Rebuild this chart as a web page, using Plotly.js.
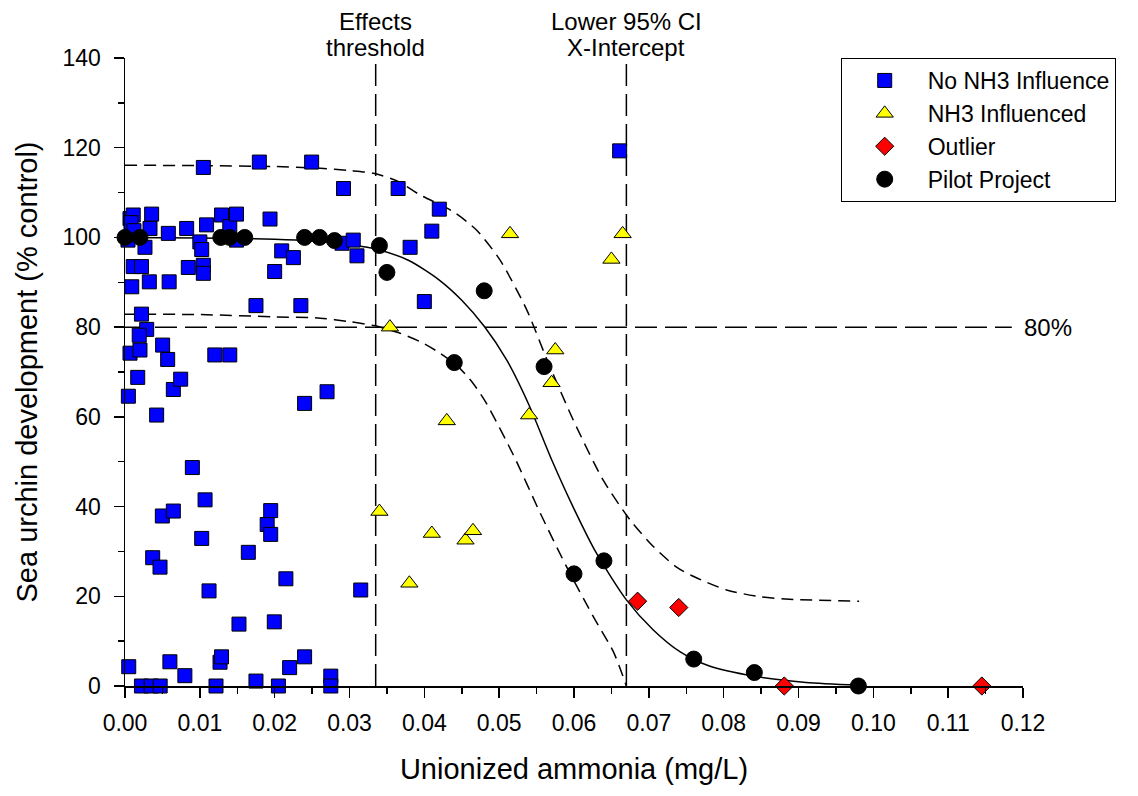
<!DOCTYPE html>
<html>
<head>
<meta charset="utf-8">
<script src="https://cdn.plot.ly/plotly-3.0.1.min.js"></script>
<style>html,body{margin:0;padding:0;background:#fff;}#chart{width:1138px;height:796px;}</style>
</head>
<body>
<div id="chart"></div>
<script>
// ---- Data: No NH3 Influence (blue squares)
const noNH3X = [0.0005,0.00045,0.00067,0.0009,0.00067,0.0011,0.0008,0.0012,0.0004,0.0011,0.0022,0.0022,0.0029,0.0019,0.002,0.0017,0.00267,0.00334,0.00356,0.00325,0.0022,0.0035,0.0047,0.0037,0.00423,0.00468,0.00499,0.00503,0.0057,0.0059,0.006,0.00579,0.00646,0.00646,0.00744,0.008,0.00824,0.00846,0.009,0.01,0.01025,0.01047,0.01047,0.01025,0.0107,0.01123,0.01047,0.0109,0.012,0.01216,0.0127,0.0129,0.0129,0.014,0.014,0.0149,0.0149,0.01523,0.01648,0.0175,0.0175,0.01795,0.019,0.01947,0.01947,0.01938,0.02,0.01995,0.0205,0.02094,0.0215,0.022,0.0225,0.0235,0.024,0.024,0.02494,0.027,0.0275,0.0275,0.0292,0.029,0.0305,0.031,0.0315,0.0365,0.0381,0.04,0.041,0.042,0.0661];
const noNH3Y = [4.3,64.6,74.2,89.0,104.2,105.0,103.3,101.5,99.4,93.5,93.5,82.9,79.5,78.2,74.9,68.8,97.8,102.0,105.2,90.1,0,0,0,28.6,60.4,26.5,37.9,76.0,72.8,90.1,5.4,100.9,66.1,39.0,68.4,2.3,102.0,93.3,48.7,99.0,97.3,93.8,92.0,32.9,41.5,21.2,115.6,102.8,73.8,0,5.3,6.5,105.0,102.4,73.8,105.2,99.4,13.8,29.8,84.8,1.1,116.8,36.0,39.1,33.8,104.1,92.4,14.3,0,97.0,23.9,4.1,95.5,84.8,63.0,6.5,116.8,65.6,2.2,0,110.9,98.7,99.4,95.9,21.4,110.9,97.8,85.7,101.4,106.3,119.3];

// ---- NH3 Influenced (yellow triangles)
const nh3X = [0.0354,0.034,0.038,0.041,0.043,0.0455,0.0465,0.05145,0.054,0.057,0.0575,0.065,0.0665];
const nh3Y = [80.0,38.9,22.9,34.0,59.1,32.5,34.6,100.8,60.4,67.6,74.9,95.1,100.8];

// ---- Outlier (red diamonds)
const outX = [0.0685,0.074,0.0881,0.1145];
const outY = [18.9,17.5,0,0];

// ---- Pilot Project (black circles)
const pilotX = [0.0,0.002,0.0128,0.014,0.016,0.024,0.026,0.028,0.034,0.035,0.044,0.048,0.056,0.060,0.064,0.076,0.0841,0.098];
const pilotY = [100,100,100,100,100,100,100,99.3,98.2,92.2,72.1,88.1,71.2,25.0,27.9,6.0,3.0,0];

// ---- Fitted curve and 95% CI bands
const fitX = [0,0.01,0.02,0.025,0.03,0.034,0.038,0.042,0.045,0.048,0.051,0.054,0.057,0.060,0.063,0.067,0.0706,0.0742,0.078,0.084,0.091,0.098];
const fitY = [100,99.9,99.6,99.2,98.4,97.2,94.8,90.5,86.0,80.2,72.7,62.6,50.5,39.5,29.6,19.2,12.5,7.6,4.5,2.2,0.8,0.2];
const upX = [0,0.01,0.02,0.0261,0.0301,0.0332,0.0365,0.0394,0.0439,0.047,0.0501,0.0537,0.0564,0.0599,0.0639,0.0675,0.0706,0.0737,0.076,0.0804,0.0849,0.0893,0.0981];
const upY = [116.1,116.0,115.8,115.4,114.9,114.3,112.5,109.5,105.7,101.6,95.0,83.8,72.7,59.3,45.9,37.0,31.1,26.5,24.4,21.4,19.9,19.3,18.9];
const loX = [0,0.01,0.02,0.0261,0.0301,0.0334,0.0365,0.0394,0.042,0.0445,0.0465,0.0483,0.0519,0.0555,0.059,0.0626,0.0653,0.067];
const loY = [82.9,82.8,82.3,82.0,81.2,80.3,78.8,76.8,74.3,71.2,67.5,63.0,51.5,38.5,26.6,15.4,7.5,0];

// ---- Reference lines
const effectsThresholdX = [0.0335, 0.0335];
const ciInterceptX = [0.067, 0.067];
const refLineY = [0, 139];
const level80X = [0, 0.1185];
const level80Y = [80, 80];

const FONT = 'Liberation Sans, Arial, sans-serif';
const refDash = '22px,8px';
const bandDash = '12px,7px';
const TXT = 24;

const traces = [
  {x: effectsThresholdX, y: refLineY, mode: 'lines', line: {color: '#000', width: 1.5, dash: refDash}, showlegend: false, hoverinfo: 'skip'},
  {x: ciInterceptX, y: refLineY, mode: 'lines', line: {color: '#000', width: 1.5, dash: refDash}, showlegend: false, hoverinfo: 'skip'},
  {x: level80X, y: level80Y, mode: 'lines', line: {color: '#000', width: 1.5, dash: refDash}, showlegend: false, hoverinfo: 'skip'},
  {x: upX, y: upY, mode: 'lines', line: {color: '#000', width: 1.5, dash: bandDash, shape: 'spline', smoothing: 0.7}, showlegend: false, hoverinfo: 'skip'},
  {x: loX, y: loY, mode: 'lines', line: {color: '#000', width: 1.5, dash: bandDash, shape: 'spline', smoothing: 0.7}, showlegend: false, hoverinfo: 'skip'},
  {x: fitX, y: fitY, mode: 'lines', line: {color: '#000', width: 1.5, shape: 'spline', smoothing: 0.7}, showlegend: false, hoverinfo: 'skip'},
  {x: noNH3X, y: noNH3Y, mode: 'markers', name: 'No NH3 Influence', cliponaxis: false,
   marker: {symbol: 'square', size: 14, color: '#0000FF', line: {color: '#000', width: 1}}},
  {x: nh3X, y: nh3Y, mode: 'markers', name: 'NH3 Influenced', cliponaxis: false,
   marker: {symbol: 'triangle-up', size: 15, color: '#FFFF00', line: {color: '#000', width: 1}}},
  {x: outX, y: outY, mode: 'markers', name: 'Outlier', cliponaxis: false,
   marker: {symbol: 'diamond', size: 14, color: '#FF0000', line: {color: '#000', width: 1}}},
  {x: pilotX, y: pilotY, mode: 'markers', name: 'Pilot Project', cliponaxis: false,
   marker: {symbol: 'circle', size: 16, color: '#000', line: {color: '#000', width: 1}}}
];

const layout = {
  width: 1138, height: 796,
  margin: {l: 125, r: 115, t: 58, b: 110},
  paper_bgcolor: '#fff', plot_bgcolor: '#fff',
  font: {family: FONT, size: TXT, color: '#000'},
  xaxis: {
    range: [0, 0.12], tick0: 0, dtick: 0.01, tickformat: '.2f',
    showline: true, linecolor: '#000', linewidth: 1.5, mirror: false,
    ticks: 'outside', ticklen: 10, tickwidth: 1.5, tickcolor: '#000', ticklabelstandoff: 6,
    minor: {dtick: 0.005, ticks: 'outside', ticklen: 6, tickwidth: 1.5, tickcolor: '#000', showgrid: false},
    showgrid: false, zeroline: false,
    tickfont: {family: FONT, size: 23, color: '#000'},
    title: {text: 'Unionized ammonia (mg/L)', font: {family: FONT, size: 29, color: '#000'}, standoff: 23}
  },
  yaxis: {
    range: [0, 140], tick0: 0, dtick: 20,
    showline: true, linecolor: '#000', linewidth: 1.5, mirror: false,
    ticks: 'outside', ticklen: 10, tickwidth: 1.5, tickcolor: '#000', ticklabelstandoff: 8,
    minor: {dtick: 10, ticks: 'outside', ticklen: 6, tickwidth: 1.5, tickcolor: '#000', showgrid: false},
    showgrid: false, zeroline: false,
    tickfont: {family: FONT, size: 23, color: '#000'},
    title: {text: 'Sea urchin development (% control)', font: {family: FONT, size: 29, color: '#000'}, standoff: 16}
  },
  legend: {
    x: 0.797, y: 1.0, xanchor: 'left', yanchor: 'top',
    bgcolor: '#fff', bordercolor: '#000', borderwidth: 1,
    itemwidth: 76,
    font: {family: FONT, size: 23, color: '#000'}
  },
  annotations: [
    {x: effectsThresholdX[0], y: 1.0, xref: 'x', yref: 'paper', yanchor: 'middle', yshift: 37, showarrow: false,
     text: 'Effects', font: {family: FONT, size: TXT, color: '#000'}},
    {x: effectsThresholdX[0], y: 1.0, xref: 'x', yref: 'paper', yanchor: 'middle', yshift: 11, showarrow: false,
     text: 'threshold', font: {family: FONT, size: TXT, color: '#000'}},
    {x: ciInterceptX[0], y: 1.0, xref: 'x', yref: 'paper', yanchor: 'middle', yshift: 37, showarrow: false,
     text: 'Lower 95% CI', font: {family: FONT, size: TXT, color: '#000'}},
    {x: ciInterceptX[0], y: 1.0, xref: 'x', yref: 'paper', yanchor: 'middle', yshift: 11, showarrow: false,
     text: 'X-Intercept', font: {family: FONT, size: TXT, color: '#000'}},
    {x: 0.1199, y: level80Y[0], xref: 'x', yref: 'y', xanchor: 'left', showarrow: false,
     text: '80%', font: {family: FONT, size: TXT, color: '#000'}}
  ],
  showlegend: true
};

Plotly.newPlot('chart', traces, layout, {displayModeBar: false, staticPlot: true});
</script>
</body>
</html>
